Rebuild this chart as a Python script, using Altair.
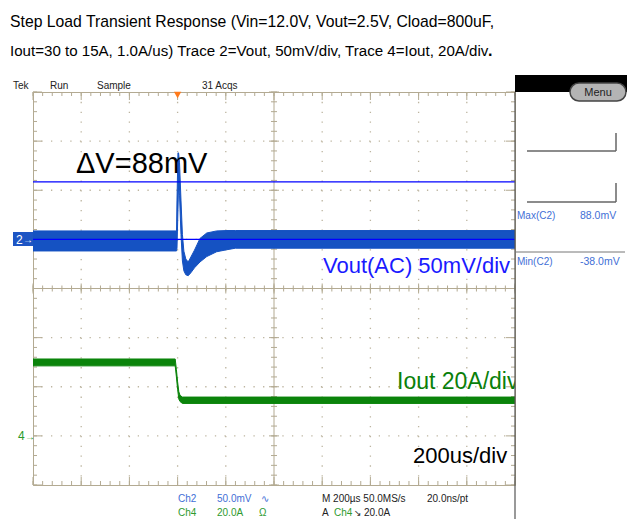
import altair as alt
import pandas as pd
import numpy as np

# ---------------- values ----------------
# Trace 2 (Vout, AC, mV) : upper / lower envelope of the noisy band vs time (us)
t_vout = [-600, -4.5, -2.5, 1.5, 4, 8, 14, 20, 26, 34, 44, 55, 70, 93, 121, 162, 205, 240, 1400]
vout_hi = [8.6, 8.6, 40, 88, 88, 78, 40, 5, -12, -20, -23, -18, -11, 1, 6.5, 8.6, 9, 9, 9]
vout_lo = [-11.8, -11.8, -9, 30, 55, 45, 5, -22, -32, -36, -37, -34, -29, -23, -17.5, -12.6, -10.5, -9, -9]

# Trace 4 (Iout, A) envelope vs time (us)
t_iout = [-600, -10, -5, 0, 5, 10, 20, 1400]
iout_hi = [31.3, 31.3, 27, 22, 18, 16.5, 15.8, 15.8]
iout_lo = [28.5, 28.5, 24, 19, 15, 14, 13.2, 13.2]

cursor_mv = [0, 58.5]          # blue horizontal cursor lines (mV on trace 2)
trigger_t = [0]                # trigger position (us)

# scope settings
t_start, t_end = -600, 1400    # 10 div x 200 us
us_per_div = 200
mv_per_div = 50
a_per_div = 20
ch2_pos = 1.0                  # ground marker of ch2 (div)
ch4_pos = -3.0                 # ground marker of ch4 (div)

title1 = "Step Load Transient Response (Vin=12.0V, Vout=2.5V, Cload=800uF,"
title2 = "Iout=30 to 15A, 1.0A/us) Trace 2=Vout, 50mV/div, Trace 4=Iout, 20A/div"

# ---------------- geometry / style ----------------
W, H = 482, 393
SANS = "Liberation Sans, Arial, sans-serif"
GRAT = "#b3aa92"
DOT = "#bdb5a0"
BLUE = "#1552c2"
GREEN = "#0b840b"

xs = alt.Scale(domain=[t_start, t_end], nice=False, zero=False)
ys = alt.Scale(domain=[-4, 4], nice=False, zero=False)

one = pd.DataFrame({"a": [0]})

vout_df = pd.DataFrame({"t": t_vout, "hi": vout_hi, "lo": vout_lo})
iout_df = pd.DataFrame({"t": t_iout, "hi": iout_hi, "lo": iout_lo})

minor_t = pd.DataFrame({"t": np.arange(t_start, t_end + 0.1, us_per_div / 5)})
major_t = pd.DataFrame({"t": np.arange(t_start, t_end + 0.1, us_per_div)})
minor_y = pd.DataFrame({"y": np.round(np.arange(-4, 4.01, 0.2), 3)})
major_y = pd.DataFrame({"y": np.arange(-4, 5, 1.0)})
grid_t = pd.DataFrame({"t": [v for v in np.arange(t_start + us_per_div, t_end, us_per_div) if v != 400]})
grid_y = pd.DataFrame({"y": [-3.0, -2.0, -1.0, 1.0, 2.0, 3.0]})
center_t = pd.DataFrame({"t": [400]})
center_y = pd.DataFrame({"y": [0.0]})

X = alt.X("t:Q", scale=xs, axis=None)
Y = alt.Y("y:Q", scale=ys, axis=None)

layers = []

# dotted graticule
layers.append(alt.Chart(grid_t).mark_rule(color=DOT, strokeWidth=1.3, strokeDash=[1.3, 8.525]).encode(x=X))
layers.append(alt.Chart(grid_y).mark_rule(color=DOT, strokeWidth=1.3, strokeDash=[1.3, 8.34]).encode(y=Y))
# solid centre cross
layers.append(alt.Chart(center_t).mark_rule(color=GRAT, strokeWidth=1).encode(x=X))
layers.append(alt.Chart(center_y).mark_rule(color=GRAT, strokeWidth=1).encode(y=Y))

cy, cx = H / 2, W / 2
# ticks along edges and centre lines
for df, lo_, hi_ in [(minor_t, 4, 3), (major_t, 8, 5)]:
    layers.append(alt.Chart(df).mark_rule(color=GRAT).encode(x=X, y=alt.value(0), y2=alt.value(lo_)))
    layers.append(alt.Chart(df).mark_rule(color=GRAT).encode(x=X, y=alt.value(H), y2=alt.value(H - lo_)))
    layers.append(alt.Chart(df).mark_rule(color=GRAT).encode(x=X, y=alt.value(cy - hi_), y2=alt.value(cy + hi_)))
for df, lo_, hi_ in [(minor_y, 4, 3), (major_y, 9, 5)]:
    layers.append(alt.Chart(df).mark_rule(color=GRAT).encode(y=Y, x=alt.value(0), x2=alt.value(lo_)))
    layers.append(alt.Chart(df).mark_rule(color=GRAT).encode(y=Y, x=alt.value(W), x2=alt.value(W - lo_)))
    layers.append(alt.Chart(df).mark_rule(color=GRAT).encode(y=Y, x=alt.value(cx - hi_), x2=alt.value(cx + hi_)))

# traces
layers.append(
    alt.Chart(iout_df).transform_calculate(
        yh=f"{ch4_pos} + datum.hi / {a_per_div}", yl=f"{ch4_pos} + datum.lo / {a_per_div}"
    ).mark_area(color=GREEN, stroke=GREEN, strokeWidth=1, clip=True).encode(
        x=X, y=alt.Y("yh:Q", scale=ys, axis=None), y2="yl:Q")
)
layers.append(
    alt.Chart(vout_df).transform_calculate(
        yh=f"{ch2_pos} + datum.hi / {mv_per_div}", yl=f"{ch2_pos} + datum.lo / {mv_per_div}"
    ).mark_area(color=BLUE, stroke=BLUE, strokeWidth=1, clip=True).encode(
        x=X, y=alt.Y("yh:Q", scale=ys, axis=None), y2="yl:Q")
)
layers.append(
    alt.Chart(pd.DataFrame({"mv": cursor_mv})).transform_calculate(
        y=f"{ch2_pos} + datum.mv / {mv_per_div}"
    ).mark_rule(color="#0000ff", strokeWidth=1.3).encode(y=Y)
)

# trigger marker
layers.append(alt.Chart(pd.DataFrame({"t": trigger_t})).mark_point(
    shape="triangle-down", filled=True, size=55, color="#ff7a1a", opacity=1).encode(x=X, y=alt.value(3)))


def txt(s, x, y, size, color, font=SANS, align="left", baseline="alphabetic", weight="normal", clip=False):
    return alt.Chart(one).mark_text(text=s, align=align, baseline=baseline, fontSize=size, font=font,
                                    color=color, fontWeight=weight, clip=clip).encode(
        x=alt.value(x), y=alt.value(y))


def box(x1, x2, y1, y2, fill, stroke=None, radius=0, sw=1):
    kw = dict(fill=fill, cornerRadius=radius)
    if stroke:
        kw.update(stroke=stroke, strokeWidth=sw)
    return alt.Chart(one).mark_rect(**kw).encode(
        x=alt.value(x1), x2=alt.value(x2), y=alt.value(y1), y2=alt.value(y2))


def line(x1, x2, y1, y2, color, width=1.0):
    return alt.Chart(one).mark_rule(color=color, strokeWidth=width).encode(
        x=alt.value(x1), x2=alt.value(x2), y=alt.value(y1), y2=alt.value(y2))


# big annotations
layers.append(txt("\u0394V=88mV", 43, 81, 29, "black"))
layers.append(txt("Vout(AC) 50mV/div", 290, 181, 22, "#1a1aff"))
layers.append(txt("Iout 20A/div", 364, 297, 23, "#0a7f0a", clip=True))
layers.append(txt("200us/div", 380, 371, 22, "black"))

# title
layers.append(txt(title1, -23, -65, 15.75, "black"))
layers.append(txt(title2, -23, -36, 15.1, "black"))
layers.append(txt(".", 455, -36, 16, "black", weight="bold"))

# status line
for s, x in [("Tek", -20), ("Run", 17), ("Sample", 64), ("31 Acqs", 169)]:
    layers.append(txt(s, x, -3, 10, "#222222"))

# channel markers
layers.append(box(-20, 0, 140, 154, "#1d55c4"))
layers.append(txt("2", -17, 151.5, 12, "white"))
layers.append(txt("\u2192", -10, 151, 10, "white"))
layers.append(txt("4", -15, 348, 12, "#2a9a2a"))
layers.append(txt("\u2192", -8, 348, 10, "#2a9a2a"))

# bottom readouts
CH2C, CH4C = "#3f6fd6", "#2e9a2e"
layers.append(txt("Ch2", 145, 410, 10, CH2C))
layers.append(txt("50.0mV", 184, 410, 10, CH2C))
layers.append(txt("\u223f", 228, 410, 10, CH2C, "DejaVu Sans"))
layers.append(txt("Ch4", 145, 424, 10, CH4C))
layers.append(txt("20.0A", 184, 424, 10, CH4C))
layers.append(txt("\u03a9", 226, 424, 10, CH4C))
layers.append(txt("M 200\u00b5s 50.0MS/s", 289, 410, 10, "#222222"))
layers.append(txt("20.0ns/pt", 394, 410, 10, "#222222"))
layers.append(txt("A", 289, 424, 10, "#222222"))
layers.append(txt("Ch4", 301, 424, 10, CH4C))
layers.append(txt("\u2198", 321, 424, 9, "#222222", "DejaVu Sans"))
layers.append(txt("20.0A", 331, 424, 10, "#222222"))

# right side panel
layers.append(box(482, 594, -17, 0, "black"))
layers.append(line(482, 482, 0, 427, "#555555", 1.2))
layers.append(box(537, 593, -9, 9, "#b4b4b4", "#444444", 9, 1.5))
layers.append(txt("Menu", 565, 4, 11, "#222222", align="center"))
layers.append(line(494, 583, 59, 59, "#666666", 1.5))
layers.append(line(583, 583, 41, 59, "#666666", 1.5))
layers.append(line(494, 583, 110, 110, "#666666", 1.5))
layers.append(line(583, 583, 91, 110, "#666666", 1.5))
layers.append(txt("Max(C2)", 484, 127, 10, CH2C))
layers.append(txt("88.0mV", 547, 127, 10.5, CH2C))
layers.append(line(482, 592, 160, 160, "#777777", 1))
layers.append(txt("Min(C2)", 484, 173, 10, CH2C))
layers.append(txt("-38.0mV", 547, 173, 10.5, CH2C))

chart = alt.layer(*layers).properties(
    width=W, height=H,
    padding={"left": 25, "top": 84, "right": 112, "bottom": 34},
    autosize=alt.AutoSizeParams(type="none"),
    background="white",
).configure_view(stroke=GRAT, strokeWidth=1)

chart.save("out.html", embed_options={"renderer": "svg", "actions": False})
